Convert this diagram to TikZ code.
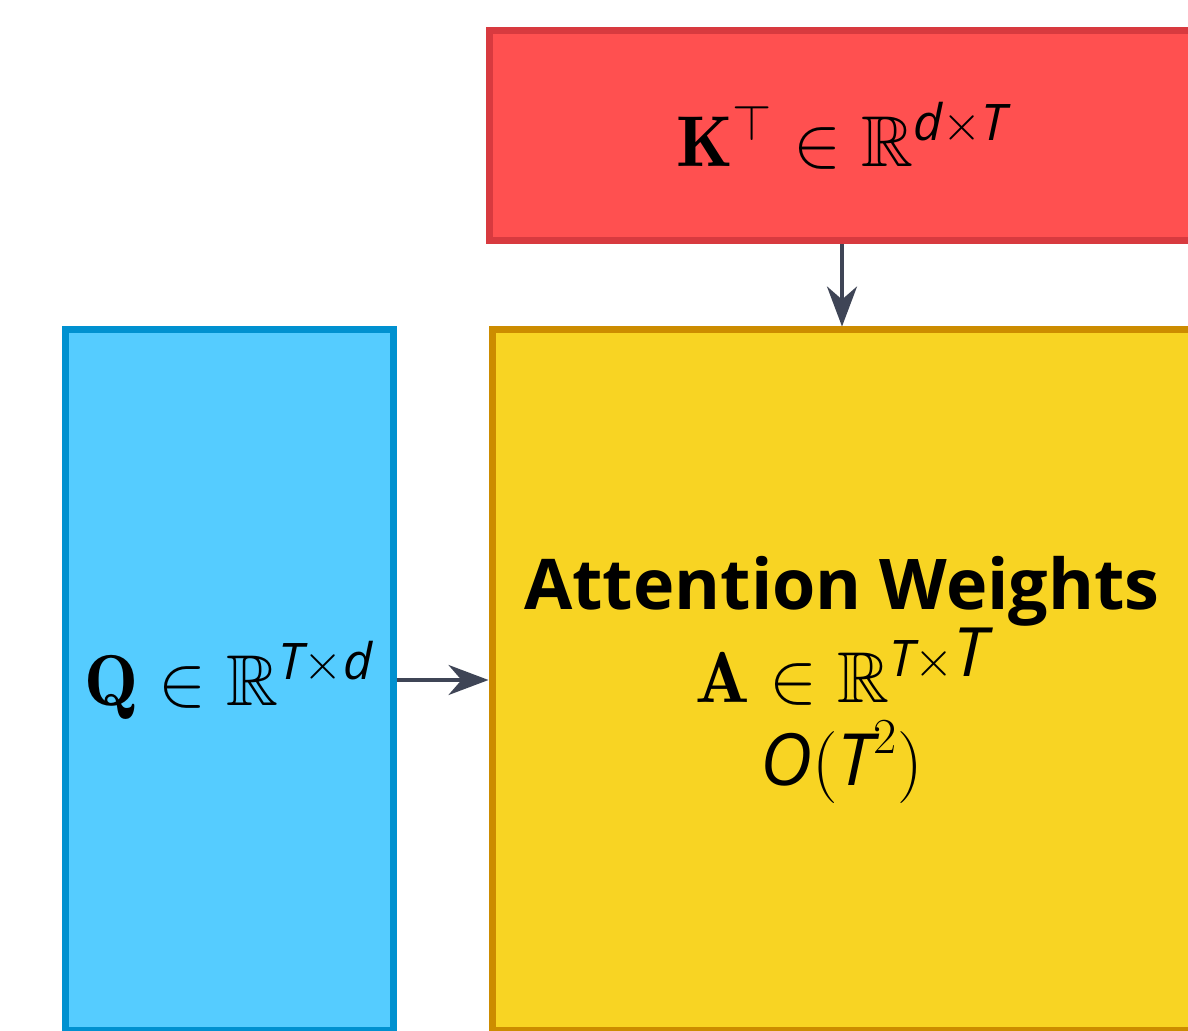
\RequirePackage{fix-cm}
\documentclass[tikz,border=0pt]{standalone}
\usepackage{amsmath}
\usepackage{amssymb}
\usepackage{fontspec}
\newfontfamily\osans{Open Sans}
\usepackage{tikz}
\usetikzlibrary{arrows.meta, positioning}
\definecolor{qfill}{HTML}{55CCFF}\definecolor{qline}{HTML}{0091D0}
\definecolor{kfill}{HTML}{FF5050}\definecolor{kline}{HTML}{D83A3F}
\definecolor{afill}{HTML}{F8D423}\definecolor{aline}{HTML}{CC8C00}
\definecolor{edgegray}{HTML}{3F4556}
\newcommand{\sv}[1]{\text{\osans\itshape #1}}
\newcommand{\bigsv}[1]{\text{\fontsize{34}{34}\selectfont\osans\itshape #1}}

\begin{document}
\begin{tikzpicture}[x=0.5pt,y=-0.5pt,mat/.style={rectangle, draw, line width=3.5pt, align=center,
     inner sep=0pt, font=\fontsize{36}{41.5}\selectfont},arrow/.style={draw=edgegray, line width=2pt, -{Stealth[length=20pt,width=15pt]}}]
     \clip (0,0) rectangle (1188,1031);
     \node (attn) [mat, fill=afill, draw=aline, minimum width=350pt, minimum height=350pt] at (842,680)
       {{\osans\bfseries\fontsize{35}{41.5}\selectfont Attention Weights}\\$\mathbf{A}\in\mathbb{R}^{\sv{T}\times\bigsv{T}}$\\$\sv{O}(\sv{T}^2)$};
     \node (key) [mat, fill=kfill, draw=kline, minimum width=353pt, minimum height=105pt, above=41pt of attn]
       {$\mathbf{K}^\top\in\mathbb{R}^{\sv{d}\times\sv{T}}$};
     \node (query) [mat, fill=qfill, draw=qline, minimum width=164pt, minimum height=350pt, left=46pt of attn]
       {$\mathbf{Q}\in\mathbb{R}^{\sv{T}\times\sv{d}}$};
     \draw [arrow] (key) -- (attn);\draw [arrow] (query) -- (attn);
\end{tikzpicture}
\end{document}
